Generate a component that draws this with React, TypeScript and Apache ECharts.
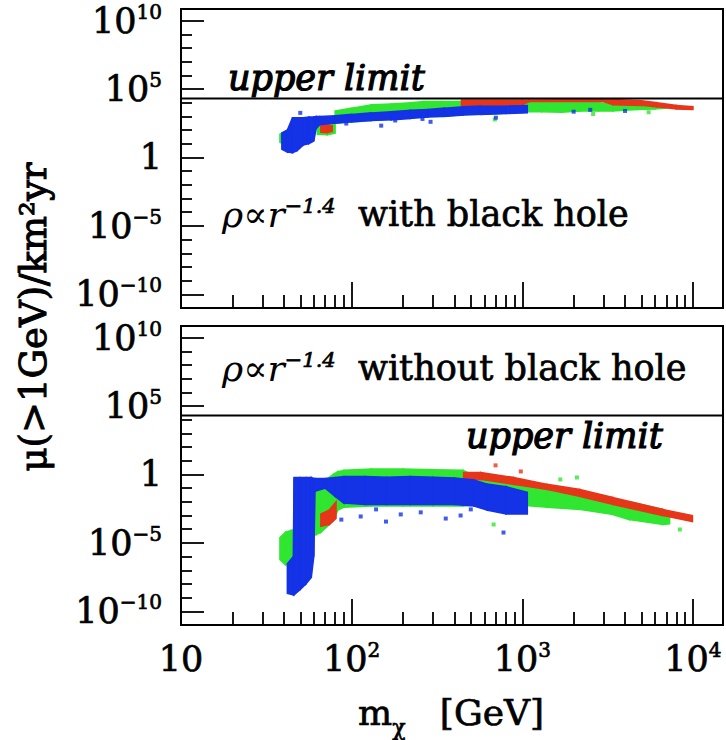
import React, { useEffect, useRef } from "react";
import * as echarts from "echarts";

const FONT = "DejaVu Serif";

// axis ranges
const X_MIN = 10;
const X_MAX = 15000;
const Y_MIN = 1e-11;
const Y_MAX = 7e10;
const UPPER_LIMIT = 2e4;

// tick values
const xMajorTicks = [10, 100, 1000, 10000];
const xMinorTicks = [20, 30, 40, 50, 60, 70, 80, 90, 200, 300, 400, 500, 600, 700, 800, 900, 2000, 3000, 4000, 5000, 6000, 7000, 8000, 9000];
const yMajorTicks = [1e-10, 1e-5, 1, 1e5, 1e10];
const yMinorTicks = [1e-9, 1e-8, 1e-7, 1e-6, 1e-4, 1e-3, 1e-2, 1e-1, 10, 100, 1e3, 1e4, 1e6, 1e7, 1e8, 1e9];

// ---- top panel (with black hole): bands [mass GeV, low, high] ----
const topGreenFringe = [[38, 13, 50], [41, 8, 80], [45, 8, 100]];
const topGreenPatch = [[63, 50, 350], [72, 45, 350], [80, 60, 400]];
const topGreenBand = [
  [80, 300, 2500], [100, 400, 4000], [130, 500, 7000], [170, 600, 8000], [220, 800, 1e4],
  [265, 1000, 1.2e4], [340, 1000, 1.2e4], [440, 1300, 1.2e4], [700, 1500, 1.1e4], [1000, 2200, 1.2e4],
  [1300, 2200, 1.2e4], [1700, 2000, 1.2e4], [2200, 2500, 1.2e4], [2800, 2500, 1e4], [3400, 2500, 8000],
  [4700, 3200, 7000], [6000, 3500, 5600], [7000, 4000, 5000],
];
const topRedPatch = [[66, 70, 250], [72, 65, 250], [77, 80, 200]];
const topRedBand = [
  [440, 6000, 1.6e4], [700, 6300, 1.6e4], [1000, 7000, 1.6e4], [1100, 1.2e4, 1.6e4], [3000, 1.2e4, 1.7e4],
  [3400, 7000, 1.7e4], [5000, 6300, 1.4e4], [6150, 5000, 1e4], [8000, 3500, 6300], [10000, 3200, 5000],
];
const topBlueBand = [
  [39, 4, 63], [42, 2.5, 100], [45, 2.2, 800], [48, 3.2, 800], [52, 8, 800], [56, 10, 900], [60, 16, 900],
  [62, 130, 1000], [65, 250, 1000], [80, 320, 1100], [100, 400, 1400], [130, 500, 1800], [170, 560, 2200],
  [220, 700, 2800], [280, 900, 3200], [350, 1000, 4000], [450, 1260, 5000], [570, 1400, 5600],
  [800, 1600, 5600], [1070, 1800, 6300],
];
const topBlueDots = [[50, 1800], [700, 800], [2000, 2200], [2500, 3000], [4000, 2500], [93, 300], [149, 210], [290, 400], [180, 500], [260, 650]];
const topGreenDots = [[690, 600], [2600, 1500], [5500, 2000]];

// ---- bottom panel (without black hole) ----
const botGreenFringe = [[38, 6e-7, 2.5e-5], [41, 2.5e-7, 6e-5], [44, 3e-7, 8e-5], [47, 3e-7, 1e-4]];
const botGreenBand = [
  [60, 4e-5, 0.25], [62, 4e-5, 0.3], [66, 6e-5, 0.3], [72, 1.6e-4, 0.5], [78, 4e-4, 1.0], [83, 2.5e-3, 1.6],
  [90, 4e-3, 2], [130, 5e-3, 2.5], [200, 5e-3, 2.5], [300, 5e-3, 2.2], [450, 5e-3, 2], [570, 6.3e-3, 0.5],
  [889, 6.3e-3, 0.3], [1395, 4e-3, 0.1], [2170, 2.8e-3, 0.06], [3380, 1.2e-3, 0.015], [4250, 5e-4, 0.01],
  [6640, 2.2e-4, 2.8e-3], [7300, 2.5e-4, 1.5e-3],
];
const botRedPatch = [[66, 1.6e-4, 1.3e-3], [74, 2.2e-4, 2.5e-3], [81, 6e-4, 1e-2]];
const botRedBand = [
  [453, 0.43, 1.4], [570, 0.43, 1.4], [889, 0.19, 0.6], [1395, 0.08, 0.19], [2170, 0.025, 0.08],
  [3380, 6.5e-3, 0.021], [6640, 1e-3, 2.8e-3], [9930, 3.6e-4, 1e-3],
];
const botBlueBand = [
  [42, 2e-9, 3e-7], [45.5, 1.6e-9, 1e-6], [46, 1.6e-9, 0.6], [50, 4e-9, 0.6], [54, 1e-8, 0.6], [58, 3e-8, 0.6],
  [60, 1e-6, 0.5], [61, 0.06, 0.5], [70, 0.1, 0.5], [80, 0.025, 0.6], [90, 8e-3, 0.7], [120, 6.3e-3, 0.7],
  [160, 6.3e-3, 0.63], [220, 6.3e-3, 0.7], [300, 6.3e-3, 0.63], [400, 6.3e-3, 0.56], [520, 5e-3, 0.4],
  [620, 2.5e-3, 0.2], [800, 1.3e-3, 0.13], [1070, 1.3e-3, 0.05],
];
const botBlueDots = [[87, 5e-4], [113, 8.5e-4], [159, 3.6e-4], [194, 1.2e-3], [254, 1.7e-3], [356, 6e-4], [435, 1e-3], [776, 5.7e-5], [139, 2.8e-3], [499, 2.8e-3]];
const botGreenDots = [[679, 2.2e-4], [1670, 0.43], [2090, 0.6], [2860, 5.4e-3], [4900, 1.2e-3], [8380, 9.5e-5], [7030, 3.6e-4]];
const botRedDots = [[697, 4.6], [980, 1.65]];

const GREEN = "#30e630";
const RED = "#e6361a";
const BLUE = "#1432e6";

const bandSeries = (data: number[][], color: string, xAxisIndex: number, yAxisIndex: number, z: number) => ({
  type: "custom",
  coordinateSystem: "cartesian2d",
  xAxisIndex,
  yAxisIndex,
  data,
  encode: { x: 0, y: [1, 2] },
  clip: true,
  silent: true,
  z,
  renderItem: (params: any, api: any) => {
    const i = params.dataIndex;
    if (i >= data.length - 1) return { type: "group", children: [] };
    const a = data[i];
    const b = data[i + 1];
    const pts = [
      api.coord([a[0], a[2]]),
      api.coord([b[0], b[2]]),
      api.coord([b[0], b[1]]),
      api.coord([a[0], a[1]]),
    ];
    return { type: "polygon", shape: { points: pts }, style: { fill: color, stroke: color, lineWidth: 1.5 } };
  },
});

const dotSeries = (data: number[][], color: string, xAxisIndex: number, yAxisIndex: number, z: number) => ({
  type: "scatter",
  xAxisIndex,
  yAxisIndex,
  data,
  symbol: "rect",
  symbolSize: 4,
  silent: true,
  z,
  itemStyle: { color },
});

const limitSeries = (xAxisIndex: number, yAxisIndex: number) => ({
  type: "line",
  xAxisIndex,
  yAxisIndex,
  data: [[X_MIN, UPPER_LIMIT], [X_MAX, UPPER_LIMIT]],
  symbol: "none",
  silent: true,
  z: 20,
  lineStyle: { color: "#000", width: 2 },
});

const STROKE = { textBorderColor: "#000", textBorderWidth: 0.7 };
const richLabel = {
  b: { fontFamily: FONT, fontSize: 35, color: "#000", lineHeight: 38, ...STROKE },
  s: { fontFamily: FONT, fontSize: 20, color: "#000", lineHeight: 20, verticalAlign: "top", ...STROKE },
};

const fmtX = (v: number) => {
  const e = Math.round(Math.log10(v));
  return e === 1 ? "{b|10}" : `{b|10}{s|${e}}`;
};
const fmtY = (v: number) => {
  const e = Math.round(Math.log10(v));
  if (e === 0) return "{b|1}";
  return `{b|10}{s|${e < 0 ? "−" : ""}${Math.abs(e)}}`;
};

const xAxisDef = (gridIndex: number, ticks: number[], len: number, labels: boolean) => ({
  type: "log",
  logBase: 10,
  gridIndex,
  min: X_MIN,
  max: X_MAX,
  position: "bottom",
  axisLine: { show: false },
  axisTick: { show: true, inside: true, length: len, customValues: ticks, lineStyle: { color: "#000", width: 1.8 } },
  axisLabel: labels
    ? { show: true, customValues: xMajorTicks, margin: 15, formatter: fmtX, rich: richLabel, color: "#000" }
    : { show: false },
  splitLine: { show: false },
});

const yAxisDef = (gridIndex: number, ticks: number[], len: number, labels: boolean) => ({
  type: "log",
  logBase: 10,
  gridIndex,
  min: Y_MIN,
  max: Y_MAX,
  position: "left",
  axisLine: { show: false },
  axisTick: { show: true, inside: true, length: len, customValues: ticks, lineStyle: { color: "#000", width: 1.8 } },
  axisLabel: labels
    ? { show: true, customValues: yMajorTicks, margin: 19, formatter: fmtY, rich: richLabel, color: "#000" }
    : { show: false },
  splitLine: { show: false },
});

const GSTROKE = { stroke: "#000", lineWidth: 0.7 };
const densityRich = {
  ri: { fontFamily: FONT, fontSize: 36, fontStyle: "italic", fill: "#000", lineHeight: 38 },
  s: { fontFamily: FONT, fontSize: 21, fontStyle: "italic", fill: "#000", lineHeight: 21, verticalAlign: "top", ...GSTROKE },
  r: { fontFamily: FONT, fontSize: 35, fill: "#000", lineHeight: 38, ...GSTROKE },
};

const upperLimitStyle = {
  text: "upper limit", fontFamily: FONT, fontSize: 35, fontStyle: "italic", fill: "#000",
  textVerticalAlign: "middle", stroke: "#000", lineWidth: 1.2,
};

export default function App() {
  const ref = useRef<HTMLDivElement>(null);
  useEffect(() => {
    if (!ref.current) return;
    const chart = echarts.init(ref.current, undefined, { renderer: "svg" });
    const option: any = {
      animation: false,
      backgroundColor: "#fff",
      grid: [
        { left: 181, top: 9, width: 542, height: 299, show: true, borderColor: "#000", borderWidth: 2, backgroundColor: "transparent" },
        { left: 181, top: 326, width: 542, height: 299, show: true, borderColor: "#000", borderWidth: 2, backgroundColor: "transparent" },
      ],
      xAxis: [
        xAxisDef(0, xMajorTicks, 26, false),
        xAxisDef(0, xMinorTicks, 13, false),
        xAxisDef(1, xMajorTicks, 26, true),
        xAxisDef(1, xMinorTicks, 13, false),
      ],
      yAxis: [
        yAxisDef(0, yMajorTicks, 23, true),
        yAxisDef(0, yMinorTicks, 11, false),
        yAxisDef(1, yMajorTicks, 23, true),
        yAxisDef(1, yMinorTicks, 11, false),
      ],
      series: [
        bandSeries(topGreenFringe, GREEN, 0, 0, 2),
        bandSeries(topGreenPatch, GREEN, 0, 0, 2),
        bandSeries(topGreenBand, GREEN, 0, 0, 2),
        bandSeries(topRedPatch, RED, 0, 0, 3),
        bandSeries(topRedBand, RED, 0, 0, 3),
        bandSeries(topBlueBand, BLUE, 0, 0, 4),
        dotSeries(topGreenDots, GREEN, 0, 0, 5),
        dotSeries(topBlueDots, BLUE, 0, 0, 5),
        limitSeries(0, 0),
        bandSeries(botGreenFringe, GREEN, 2, 2, 2),
        bandSeries(botGreenBand, GREEN, 2, 2, 2),
        bandSeries(botRedPatch, RED, 2, 2, 3),
        bandSeries(botRedBand, RED, 2, 2, 3),
        bandSeries(botBlueBand, BLUE, 2, 2, 4),
        dotSeries(botGreenDots, GREEN, 2, 2, 5),
        dotSeries(botRedDots, RED, 2, 2, 5),
        dotSeries(botBlueDots, BLUE, 2, 2, 5),
        limitSeries(2, 2),
      ],
      graphic: [
        { type: "text", x: 228, y: 78, style: { ...upperLimitStyle } },
        { type: "text", x: 466, y: 436, style: { ...upperLimitStyle } },
        {
          type: "text", x: 222, y: 214,
          style: { text: "{ri|ρ∝r}{s|−1.4}{r|  with black hole}", textVerticalAlign: "middle", rich: densityRich },
        },
        {
          type: "text", x: 222, y: 368,
          style: { text: "{ri|ρ∝r}{s|−1.4}{r|  without black hole}", textVerticalAlign: "middle", rich: densityRich },
        },
        {
          type: "text", x: 33, y: 317, rotation: Math.PI / 2,
          style: { text: "μ(>1GeV)/km²yr", fontFamily: FONT, fontSize: 37, fill: "#000", textAlign: "center", textVerticalAlign: "middle", stroke: "#000", lineWidth: 1 },
        },
        {
          type: "text", x: 451, y: 712,
          style: {
            text: "{a|m}{sub|χ}{a|   [GeV]}",
            textAlign: "center",
            textVerticalAlign: "middle",
            rich: {
              a: { fontFamily: FONT, fontSize: 36, fill: "#000", lineHeight: 40, ...GSTROKE },
              sub: { fontFamily: FONT, fontSize: 22, fill: "#000", lineHeight: 22, verticalAlign: "bottom", padding: [0, 0, -6, 0], ...GSTROKE },
            },
          },
        },
      ],
    };
    chart.setOption(option);
    return () => chart.dispose();
  }, []);
  return <div ref={ref} style={{ position: "fixed", left: 0, top: 0, width: 726, height: 740 }} />;
}
